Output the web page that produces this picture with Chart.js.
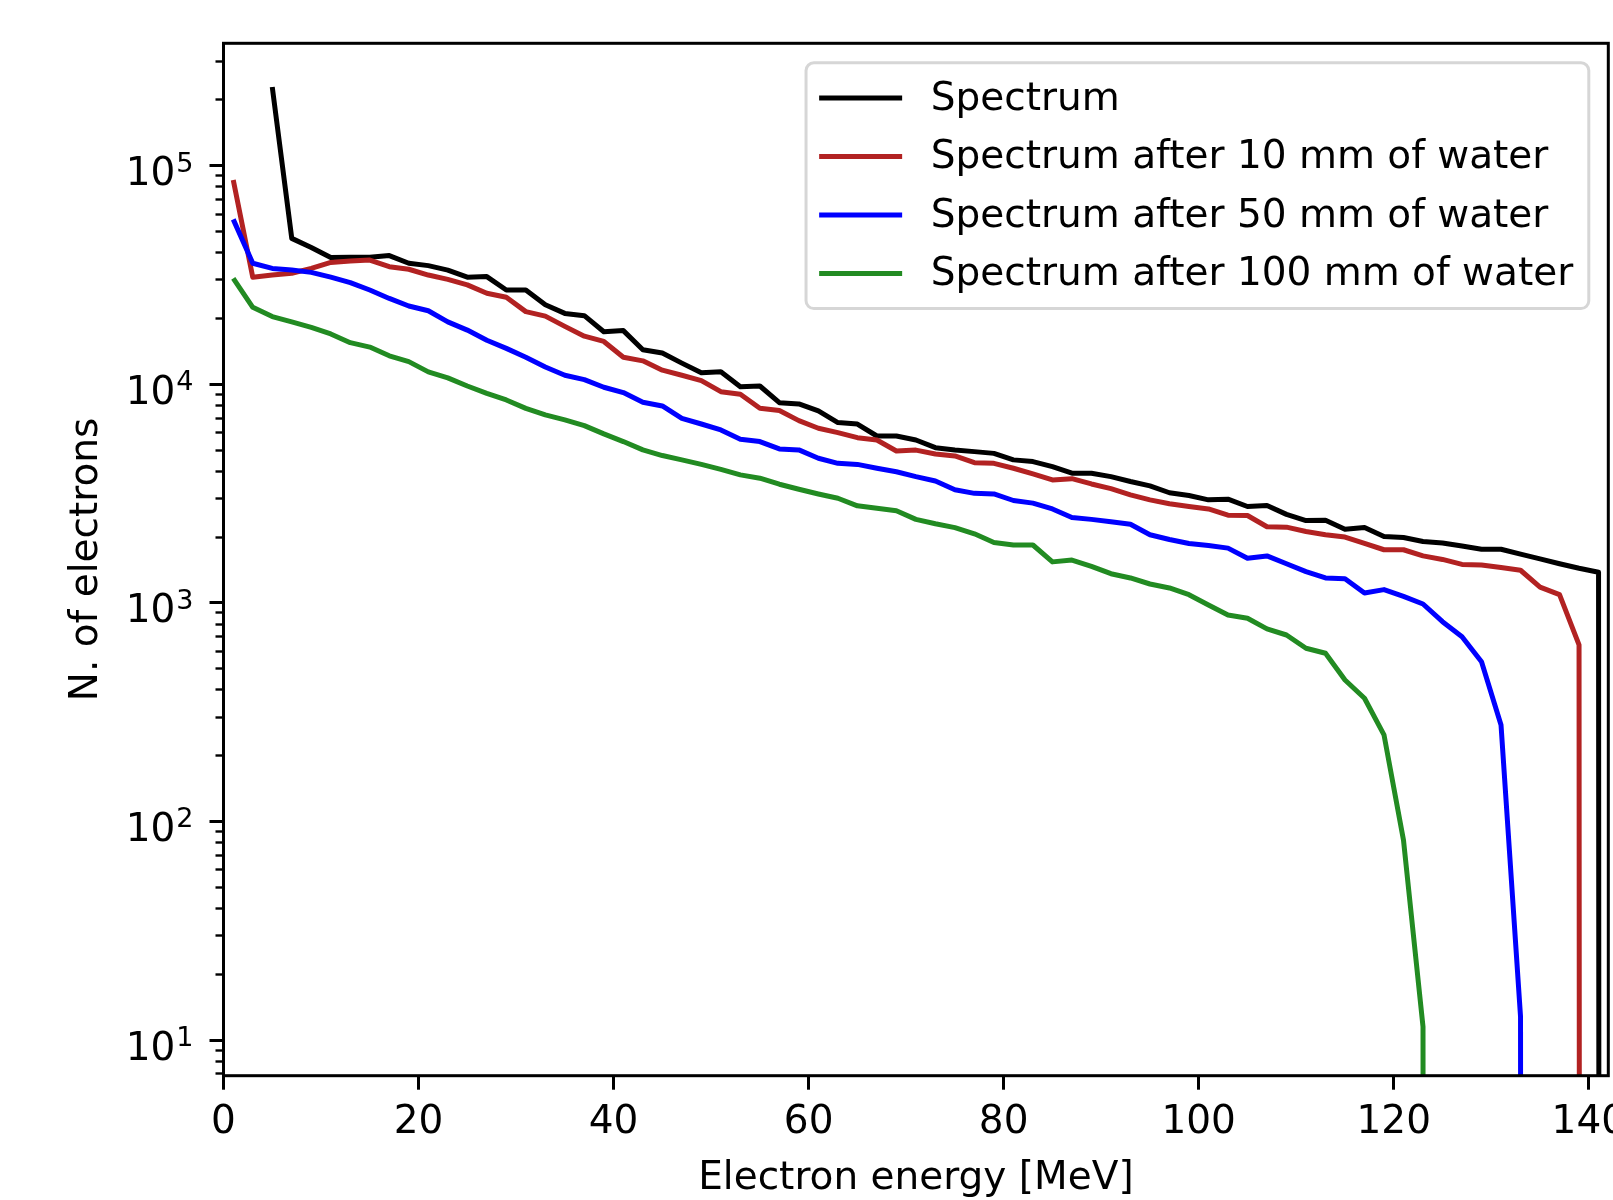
<!DOCTYPE html>
<html>
<head>
<meta charset="utf-8">
<title>Electron spectrum</title>
<script src="https://cdn.jsdelivr.net/npm/chart.js@4.4.1/dist/chart.umd.min.js"></script>
<style>
  html, body { margin: 0; padding: 0; background: #fff; }
  #wrap { width: 1613px; height: 1200px; }
</style>
</head>
<body>
<div id="wrap"><canvas id="spectrum" width="1613" height="1200"></canvas></div>
<script>
// bin centres [MeV]
const energies = [1, 3, 5, 7, 9, 11, 13, 15, 17, 19, 21, 23, 25, 27, 29, 31, 33, 35, 37, 39,
  41, 43, 45, 47, 49, 51, 53, 55, 57, 59, 61, 63, 65, 67, 69, 71, 73, 75, 77, 79,
  81, 83, 85, 87, 89, 91, 93, 95, 97, 99, 101, 103, 105, 107, 109, 111, 113, 115, 117, 119,
  121, 123, 125, 127, 129, 131, 133, 135, 137, 139, 141, 143];

// counts per bin (0 = empty bin, null = no data)
const spectrum = [null, null, 229000, 46500, 42200, 38000, 38100, 38100, 38800, 35800,
  34900, 33300, 30900, 31100, 27000, 27000, 23100, 21100, 20600, 17400,
  17600, 14400, 13900, 12500, 11300, 11400, 9750, 9820, 8240, 8130,
  7550, 6680, 6580, 5800, 5800, 5560, 5130, 5010, 4920, 4830,
  4510, 4430, 4200, 3920, 3920, 3780, 3590, 3430, 3190, 3100,
  2960, 2980, 2760, 2790, 2540, 2380, 2390, 2170, 2210, 2010,
  1990, 1910, 1880, 1820, 1760, 1760, 1670, 1590, 1510, 1440,
  1380, 0];

const after10mm = [86000, 30900, 31600, 32200, 33900, 36100, 36600, 37000, 34500, 33600,
  31600, 30200, 28500, 26100, 25000, 21500, 20500, 18400, 16600, 15700,
  13300, 12800, 11600, 11000, 10400, 9250, 9000, 7770, 7580, 6820,
  6290, 6010, 5700, 5560, 4950, 5000, 4800, 4700, 4380, 4350,
  4130, 3890, 3650, 3700, 3500, 3330, 3120, 2960, 2840, 2760,
  2690, 2520, 2510, 2230, 2220, 2120, 2050, 2000, 1870, 1750,
  1750, 1640, 1580, 1500, 1490, 1450, 1410, 1180, 1090, 642,
  0, 0];

const after50mm = [56800, 35800, 33900, 33300, 32500, 30900, 29200, 27000, 24700, 22800,
  21700, 19300, 17700, 15900, 14600, 13300, 12000, 11000, 10500, 9690,
  9160, 8270, 7960, 6990, 6580, 6180, 5600, 5470, 5060, 5010,
  4590, 4350, 4300, 4130, 3980, 3780, 3610, 3290, 3170, 3150,
  2940, 2860, 2690, 2460, 2410, 2350, 2290, 2050, 1950, 1870,
  1830, 1780, 1600, 1640, 1510, 1390, 1300, 1290, 1110, 1150,
  1070, 988, 820, 700, 538, 276, 12.8, 0, 0, 0,
  0, 0];

const after100mm = [30500, 22500, 20400, 19300, 18200, 17000, 15500, 14800, 13500, 12700,
  11400, 10700, 9820, 9090, 8480, 7760, 7240, 6870, 6470, 5930,
  5470, 5010, 4720, 4510, 4300, 4080, 3850, 3720, 3490, 3310,
  3150, 3010, 2780, 2710, 2640, 2410, 2300, 2210, 2070, 1890,
  1840, 1840, 1540, 1570, 1470, 1360, 1300, 1220, 1170, 1090,
  978, 880, 850, 760, 713, 620, 588, 444, 366, 249,
  82, 11.5, 0, 0, 0, 0, 0, 0, 0, 0,
  0, 0];

const seriesLabels = ['Spectrum', 'Spectrum after 10 mm of water',
  'Spectrum after 50 mm of water', 'Spectrum after 100 mm of water'];
const seriesColors = ['#000000', '#b22222', '#0000ff', '#228b22'];

// axes
const xMin = 0, xMax = 142;
const xTickValues = [0, 20, 40, 60, 80, 100, 120, 140];
const yMin = 6.87, yMax = 363000;
const yMajorTicks = [10, 100, 1000, 10000, 100000];
const yTickBase = '10';
const yTickExponents = ['1', '2', '3', '4', '5'];
const yMinorMultiples = [2, 3, 4, 5, 6, 7, 8, 9];

// empty bins are pushed far below the axis, like matplotlib's log clipping
const LOG_FLOOR = 1e-300;

const FS = 39;
const FONT = "'DejaVu Sans', sans-serif";
Chart.defaults.font.family = FONT;
Chart.defaults.font.size = FS;
Chart.defaults.color = '#000';

// all minor positions inside the axis range
const yTickValues = [];
[1, ...yMajorTicks].forEach(dec => {
  if (dec >= yMin && dec <= yMax) yTickValues.push(dec);
  yMinorMultiples.forEach(m => {
    const v = dec * m;
    if (v >= yMin && v <= yMax) yTickValues.push(v);
  });
});
yTickValues.sort((a, b) => a - b);

const isMajor = (c) => c.tick && yMajorTicks.includes(c.tick.value);

const toPoints = (values) => values.map((v, i) => ({
  x: energies[i],
  y: v === null ? null : (v > 0 ? v : LOG_FLOOR)
}));

const allSeries = [spectrum, after10mm, after50mm, after100mm];
const datasets = allSeries.map((vals, i) => ({
  label: seriesLabels[i],
  data: toPoints(vals),
  borderColor: seriesColors[i],
  backgroundColor: seriesColors[i],
  borderWidth: 5,
  pointRadius: 0,
  tension: 0,
  spanGaps: false,
  borderJoinStyle: 'round',
  order: allSeries.length - i   // later series drawn on top
}));

// spines on all four sides, over the lines
const framePlugin = {
  id: 'axesFrame',
  afterDatasetsDraw(chart) {
    const { ctx, chartArea: { left, top, right, bottom } } = chart;
    ctx.save();
    ctx.strokeStyle = '#000';
    ctx.lineWidth = 3;
    ctx.strokeRect(left, top, right - left, bottom - top);
    ctx.restore();
  }
};

// "10" with a raised, smaller exponent for each decade tick
const powerLabelsPlugin = {
  id: 'powerLabels',
  afterDraw(chart) {
    const { ctx } = chart;
    const scale = chart.scales.y;
    const expSize = Math.round(FS * 0.7);
    const xEnd = scale.right - 14 - 16;
    ctx.save();
    ctx.fillStyle = '#000';
    ctx.textBaseline = 'alphabetic';
    yMajorTicks.forEach((v, k) => {
      const y = scale.getPixelForValue(v);
      ctx.font = `${expSize}px ${FONT}`;
      ctx.textAlign = 'right';
      const expW = ctx.measureText(yTickExponents[k]).width;
      ctx.fillText(yTickExponents[k], xEnd, y + 6);
      ctx.font = `${FS}px ${FONT}`;
      ctx.fillText(yTickBase, xEnd - expW - 1, y + 19.5);
    });
    ctx.restore();
  }
};

// legend box in the upper right corner of the axes
const boxLegendPlugin = {
  id: 'boxLegend',
  afterDraw(chart) {
    const { ctx, chartArea } = chart;
    const items = chart.data.datasets;
    ctx.save();
    ctx.font = `${FS}px ${FONT}`;
    const textW = Math.max(...items.map(d => ctx.measureText(d.label).width));
    const pad = 0.4 * FS, handle = 2 * FS, gap = 0.8 * FS, step = 1.5 * FS;
    const w = pad + handle + gap + textW + pad;
    const h = 6.3 * FS;
    const x0 = chartArea.right - 0.5 * FS - w;
    const y0 = chartArea.top + 0.5 * FS;
    const r = 0.2 * FS;

    ctx.beginPath();
    ctx.moveTo(x0 + r, y0);
    ctx.arcTo(x0 + w, y0, x0 + w, y0 + h, r);
    ctx.arcTo(x0 + w, y0 + h, x0, y0 + h, r);
    ctx.arcTo(x0, y0 + h, x0, y0, r);
    ctx.arcTo(x0, y0, x0 + w, y0, r);
    ctx.closePath();
    ctx.fillStyle = 'rgba(255,255,255,0.8)';
    ctx.fill();
    ctx.strokeStyle = 'rgba(204,204,204,0.8)';
    ctx.lineWidth = 3;
    ctx.stroke();

    items.forEach((d, i) => {
      const y = y0 + 0.9 * FS + i * step;
      ctx.beginPath();
      ctx.moveTo(x0 + pad, y);
      ctx.lineTo(x0 + pad + handle, y);
      ctx.strokeStyle = d.borderColor;
      ctx.lineWidth = 5;
      ctx.lineCap = 'square';
      ctx.stroke();
      ctx.fillStyle = '#000';
      ctx.textAlign = 'left';
      ctx.textBaseline = 'middle';
      ctx.fillText(d.label, x0 + pad + handle + gap, y + 1.5);
    });
    ctx.restore();
  }
};

new Chart(document.getElementById('spectrum'), {
  type: 'line',
  data: { datasets },
  options: {
    responsive: false,
    animation: false,
    events: [],
    layout: { autoPadding: false, padding: { top: 43.3, right: 4.7, left: 0, bottom: 0 } },
    plugins: {
      legend: { display: false },
      tooltip: { enabled: false }
    },
    scales: {
      x: {
        type: 'linear',
        min: xMin,
        max: xMax,
        afterBuildTicks: (scale) => { scale.ticks = xTickValues.map(v => ({ value: v })); },
        afterFit: (scale) => { scale.height = 124.3; scale.paddingLeft = 0; scale.paddingRight = 0; },
        border: { display: false },
        grid: { drawOnChartArea: false, drawTicks: true, tickLength: 14, tickWidth: 3, tickColor: '#000' },
        ticks: {
          color: '#000',
          font: { size: FS },
          padding: 10,
          maxRotation: 0,
          autoSkip: false,
          callback: (v) => String(v)
        },
        title: {
          display: true,
          text: 'Electron energy [MeV]',
          color: '#000',
          font: { size: FS, lineHeight: 1.1 },
          padding: { top: 0, bottom: 0 }
        }
      },
      y: {
        type: 'logarithmic',
        min: yMin,
        max: yMax,
        afterBuildTicks: (scale) => { scale.ticks = yTickValues.map(v => ({ value: v })); },
        afterFit: (scale) => { scale.width = 223.5; scale.paddingTop = 0; scale.paddingBottom = 0; },
        border: { display: false },
        grid: {
          drawOnChartArea: false,
          drawTicks: true,
          tickLength: 14,
          tickColor: '#000',
          tickWidth: (c) => isMajor(c) ? 3 : 2.4,
          // minor ticks: only the inner 8px of the 14px mark
          tickBorderDash: (c) => isMajor(c) ? [] : [8, 6],
          tickBorderDashOffset: (c) => isMajor(c) ? 0 : 8
        },
        ticks: {
          autoSkip: false,
          callback: () => ''   // decade labels drawn by powerLabelsPlugin
        },
        title: {
          display: true,
          text: 'N. of electrons',
          color: '#000',
          font: { size: FS },
          padding: { top: 63, bottom: 0 }
        }
      }
    }
  },
  plugins: [framePlugin, powerLabelsPlugin, boxLegendPlugin]
});
</script>
</body>
</html>
